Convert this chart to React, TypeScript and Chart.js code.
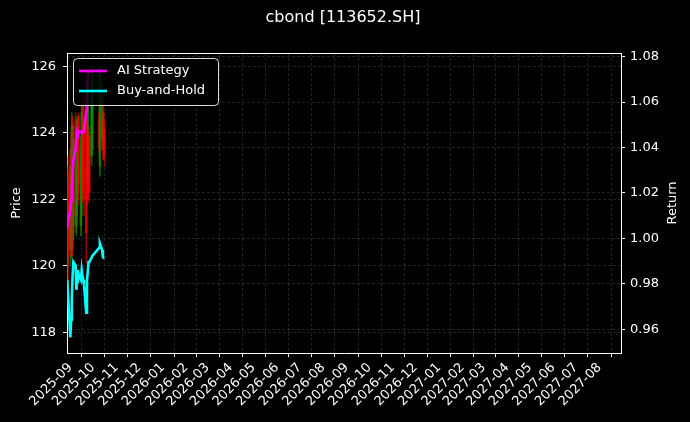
import React, { useEffect, useRef } from 'react';
import { Chart, registerables } from 'chart.js';

Chart.register(...registerables);

// trading days shown in the picture
const tradeDates = [
  '2025-08-28', '2025-08-29', '2025-09-01', '2025-09-02', '2025-09-03', '2025-09-04', '2025-09-05',
  '2025-09-08', '2025-09-09', '2025-09-10', '2025-09-11', '2025-09-12',
  '2025-09-15', '2025-09-16', '2025-09-17', '2025-09-18', '2025-09-19',
  '2025-09-22', '2025-09-23', '2025-09-24', '2025-09-25', '2025-09-26',
  '2025-09-29', '2025-09-30', '2025-10-09', '2025-10-10',
  '2025-10-13', '2025-10-14', '2025-10-15', '2025-10-16',
];

const openPrices = [
  122.5, 120.2, 123.0, 120.8, 124.2, 120.5, 123.8,
  121.5, 123.0, 124.0, 122.0, 122.5,
  123.5, 124.6, 122.2, 122.5, 122.0,
  121.0, 122.0, 125.2, 122.3, 122.2,
  125.3, 125.8, 123.6, 125.8,
  125.3, 123.5, 123.5, 123.3,
];
const highPrices = [
  123.0, 123.3, 123.5, 124.0, 124.6, 124.5, 124.2,
  124.6, 123.2, 124.5, 124.4, 124.6,
  123.9, 124.9, 124.3, 125.0, 124.5,
  124.8, 124.6, 125.5, 124.0, 124.2,
  125.5, 126.0, 124.6, 126.0,
  125.5, 124.8, 124.6, 124.3,
];
const lowPrices = [
  119.5, 119.6, 120.0, 120.3, 120.2, 120.3, 120.8,
  121.0, 120.9, 121.5, 121.8, 122.2,
  120.9, 121.5, 121.9, 122.3, 121.5,
  120.1, 121.8, 122.5, 122.0, 121.9,
  123.0, 123.3, 123.4, 122.7,
  123.5, 123.2, 123.2, 123.0,
];
const closePrices = [
  120.0, 122.8, 120.5, 123.5, 120.6, 124.3, 121.2,
  124.4, 121.2, 122.0, 124.2, 124.5,
  121.2, 122.0, 124.0, 124.8, 124.3,
  124.5, 124.4, 122.8, 123.8, 123.9,
  123.3, 123.5, 124.4, 123.0,
  123.8, 124.6, 124.4, 124.1,
];

const aiStrategy = [
  1.0102, 1.0071, 1.0124, 1.0168, 1.0233, 1.0299, 1.0343,
  1.0395, 1.0452, 1.0474, 1.0465, 1.047,
  1.047, 1.0465, 1.047, 1.047, 1.0474,
  1.0561, 1.0627, 1.0693, 1.0728, 1.073,
  1.0735, 1.0737, 1.074, 1.0738,
  1.0736, 1.0737, 1.0737, 1.0737,
];
const buyHold = [
  0.9818, 0.9752, 0.9564, 0.9643, 0.973, 0.984, 0.9896,
  0.988, 0.9774, 0.981, 0.9861, 0.984,
  0.9818, 0.9861, 0.9835, 0.9818, 0.9796,
  0.9673, 0.9818, 0.9853, 0.9896, 0.9896,
  0.9914, 0.9923, 0.9958, 0.9979,
  0.9949, 0.9918, 0.9914, 0.9914,
];

const monthTicks = [
  '2025-09', '2025-10', '2025-11', '2025-12', '2026-01', '2026-02', '2026-03', '2026-04',
  '2026-05', '2026-06', '2026-07', '2026-08', '2026-09', '2026-10', '2026-11', '2026-12',
  '2027-01', '2027-02', '2027-03', '2027-04', '2027-05', '2027-06', '2027-07', '2027-08',
];
const priceTicks = [118, 120, 122, 124, 126];
const returnTicks = [0.96, 0.98, 1.0, 1.02, 1.04, 1.06, 1.08];

const toTs = (s: string) => {
  const [y, m, d] = s.split('-').map(Number);
  return Date.UTC(y, m - 1, d || 1);
};
const fmtMonth = (v: number) => {
  const d = new Date(v);
  return `${d.getUTCFullYear()}-${String(d.getUTCMonth() + 1).padStart(2, '0')}`;
};

const FONT = "'DejaVu Sans', sans-serif";
const GRID = 'rgba(255,255,255,0.22)';

const overlayPlugin = {
  id: 'overlay',
  afterDatasetsDraw(chart: any) {
    const { ctx } = chart;
    ctx.save();
    // legend box
    const x = 73, y = 58, w = 145, h = 47, r = 4;
    ctx.beginPath();
    ctx.roundRect(x + 0.5, y + 0.5, w, h, r);
    ctx.fillStyle = 'rgba(0,0,0,0.8)';
    ctx.fill();
    ctx.strokeStyle = 'rgba(255,255,255,0.85)';
    ctx.lineWidth = 1;
    ctx.stroke();
    const items = [
      { label: 'AI Strategy', color: '#ff00ff', cy: 71 },
      { label: 'Buy-and-Hold', color: '#00ffff', cy: 91 },
    ];
    ctx.font = `13px ${FONT}`;
    ctx.textBaseline = 'middle';
    ctx.textAlign = 'left';
    items.forEach((it) => {
      ctx.beginPath();
      ctx.moveTo(79, it.cy);
      ctx.lineTo(107, it.cy);
      ctx.strokeStyle = it.color;
      ctx.lineWidth = 2.6;
      ctx.stroke();
      ctx.fillStyle = '#fff';
      ctx.fillText(it.label, 117, it.cy);
    });
    ctx.restore();
  },
  afterDraw(chart: any) {
    const { ctx, chartArea: a } = chart;
    ctx.save();
    ctx.strokeStyle = '#fff';
    ctx.lineWidth = 1;
    ctx.beginPath();
    ctx.moveTo(a.left, a.top + 0.5);
    ctx.lineTo(a.right, a.top + 0.5);
    ctx.stroke();
    ctx.fillStyle = '#fff';
    ctx.font = `16px ${FONT}`;
    ctx.textAlign = 'center';
    ctx.textBaseline = 'middle';
    ctx.fillText('cbond [113652.SH]', 343, 18);
    // right axis title, reading bottom to top
    ctx.font = `13px ${FONT}`;
    ctx.translate(673, (a.top + a.bottom) / 2);
    ctx.rotate(-Math.PI / 2);
    ctx.fillText('Return', 0, 0);
    ctx.restore();
  },
};

const App: React.FC = () => {
  const chartRef = useRef<HTMLCanvasElement>(null);
  const chartInstanceRef = useRef<Chart | null>(null);

  useEffect(() => {
    document.body.style.margin = '0';
    document.body.style.background = '#000';
    if (chartRef.current) {
      if (chartInstanceRef.current) {
        chartInstanceRef.current.destroy();
      }
      const ctx = chartRef.current.getContext('2d');
      if (ctx) {
        const xs = tradeDates.map(toTs);
        const up = tradeDates.map((_, i) => closePrices[i] >= openPrices[i]);
        const candleColors = up.map((u) => (u ? 'rgba(255,0,0,0.6)' : 'rgba(20,140,0,0.7)'));

        chartInstanceRef.current = new Chart(ctx, {
          type: 'bar',
          data: {
            datasets: [
              {
                type: 'line',
                label: 'AI Strategy',
                data: xs.map((x, i) => ({ x, y: aiStrategy[i] })),
                borderColor: '#ff00ff',
                backgroundColor: '#ff00ff',
                borderWidth: 2.6,
                pointRadius: 0,
                tension: 0,
                yAxisID: 'y1',
                order: 0,
              },
              {
                type: 'line',
                label: 'Buy-and-Hold',
                data: xs.map((x, i) => ({ x, y: buyHold[i] })),
                borderColor: '#00ffff',
                backgroundColor: '#00ffff',
                borderWidth: 2.6,
                pointRadius: 0,
                tension: 0,
                yAxisID: 'y1',
                order: 0,
              },
              {
                type: 'bar',
                label: 'wick',
                data: xs.map((x, i) => ({ x, y: [lowPrices[i], highPrices[i]] })) as any,
                backgroundColor: candleColors,
                barThickness: 1,
                grouped: false,
                yAxisID: 'y',
                order: 1,
              },
              {
                type: 'bar',
                label: 'body',
                data: xs.map((x, i) => ({ x, y: [openPrices[i], closePrices[i]] })) as any,
                backgroundColor: candleColors,
                barThickness: 2,
                grouped: false,
                yAxisID: 'y',
                order: 1,
              },
            ],
          },
          options: {
            animation: false,
            responsive: true,
            maintainAspectRatio: false,
            layout: { padding: { top: 53, left: 0, right: 0, bottom: 0 } },
            scales: {
              x: {
                type: 'linear',
                offset: false,
                min: Date.UTC(2025, 7, 27, 14),
                max: Date.UTC(2027, 7, 29, 10),
                afterBuildTicks: (scale: any) => {
                  scale.ticks = monthTicks.map((m) => ({ value: toTs(m) }));
                },
                afterFit: (scale: any) => {
                  scale.height = 69;
                },
                ticks: {
                  color: '#fff',
                  font: { family: FONT, size: 13 },
                  maxRotation: 45,
                  minRotation: 45,
                  autoSkip: false,
                  padding: 3,
                  callback: (v: any) => fmtMonth(Number(v)),
                },
                grid: {
                  color: GRID,
                  lineWidth: 0.6,
                  tickColor: '#fff',
                  tickLength: 4,
                  tickWidth: 1,
                },
                border: { color: '#fff', width: 1, dash: [3, 2] },
              },
              y: {
                type: 'linear',
                position: 'left',
                min: 117.38,
                max: 126.4,
                afterBuildTicks: (scale: any) => {
                  scale.ticks = priceTicks.map((v) => ({ value: v }));
                },
                afterFit: (scale: any) => {
                  scale.width = 67;
                },
                title: {
                  display: true,
                  text: 'Price',
                  color: '#fff',
                  font: { family: FONT, size: 13 },
                  padding: { top: 9, bottom: 0 },
                },
                ticks: {
                  color: '#fff',
                  font: { family: FONT, size: 13 },
                  padding: 7,
                  callback: (v: any) => String(v),
                },
                grid: {
                  color: GRID,
                  lineWidth: 0.6,
                  tickColor: '#fff',
                  tickLength: 4,
                  tickWidth: 1,
                },
                border: { color: '#fff', width: 1, dash: [3, 2] },
              },
              y1: {
                type: 'linear',
                position: 'right',
                min: 0.9496,
                max: 1.0816,
                afterBuildTicks: (scale: any) => {
                  scale.ticks = returnTicks.map((v) => ({ value: v }));
                },
                afterFit: (scale: any) => {
                  scale.width = 69;
                },
                ticks: {
                  color: '#fff',
                  font: { family: FONT, size: 13 },
                  padding: 5,
                  callback: (v: any) => Number(v).toFixed(2),
                },
                grid: {
                  color: GRID,
                  lineWidth: 0.6,
                  tickColor: '#fff',
                  tickLength: 4,
                  tickWidth: 1,
                },
                border: { color: '#fff', width: 1, dash: [3, 2] },
              },
            },
            plugins: {
              legend: { display: false },
              tooltip: { enabled: false },
              title: { display: false },
            },
          },
          plugins: [overlayPlugin],
        });
      }
    }
    return () => {
      if (chartInstanceRef.current) {
        chartInstanceRef.current.destroy();
        chartInstanceRef.current = null;
      }
    };
  }, []);

  return (
    <div style={{ position: 'fixed', left: 0, top: 0, width: 690, height: 422, background: '#000' }}>
      <canvas ref={chartRef}></canvas>
    </div>
  );
};

export default App;
